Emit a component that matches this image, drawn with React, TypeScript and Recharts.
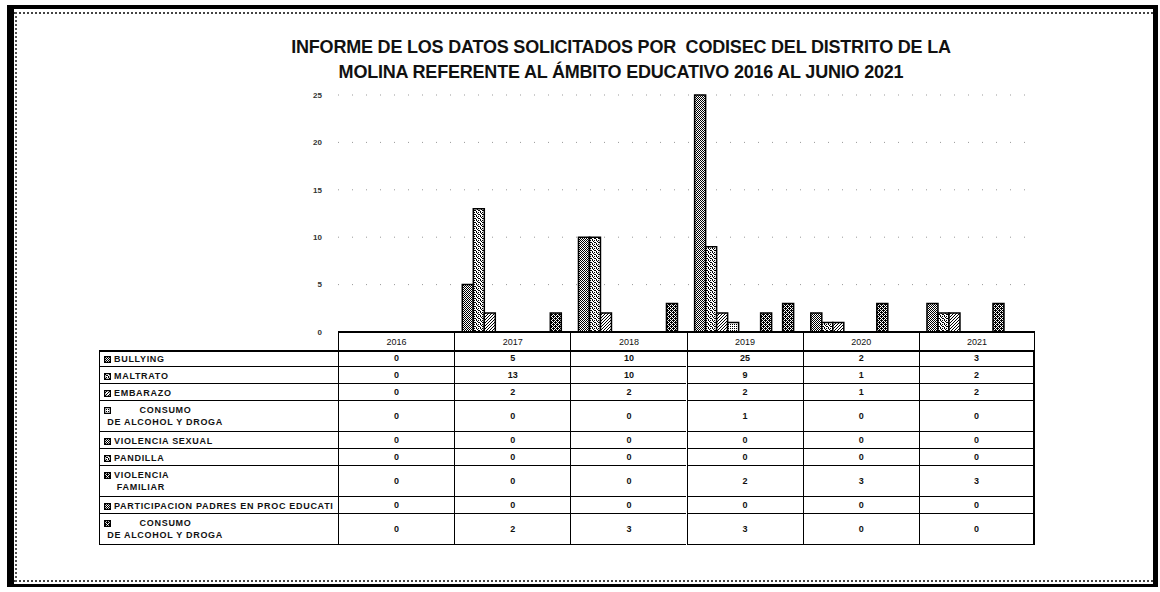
import { BarChart, Bar, XAxis, YAxis, CartesianGrid } from "recharts";

const years = ["2016", "2017", "2018", "2019", "2020", "2021"];
const yTicks = [0, 5, 10, 15, 20, 25];

const bullying = [0, 5, 10, 25, 2, 3];
const maltrato = [0, 13, 10, 9, 1, 2];
const embarazo = [0, 2, 2, 2, 1, 2];
const consumoAlcohol = [0, 0, 0, 1, 0, 0];
const violenciaSexual = [0, 0, 0, 0, 0, 0];
const pandilla = [0, 0, 0, 0, 0, 0];
const violenciaFamiliar = [0, 0, 0, 2, 3, 3];
const participacionPadres = [0, 0, 0, 0, 0, 0];
const consumoAlcohol2 = [0, 2, 3, 3, 0, 0];

const series = [
  { key: "bullying", label: ["BULLYING"], values: bullying, fill: "url(#d50)" },
  { key: "maltrato", label: ["MALTRATO"], values: maltrato, fill: "url(#d40)" },
  { key: "embarazo", label: ["EMBARAZO"], values: embarazo, fill: "url(#d30)" },
  { key: "consumo", label: ["        CONSUMO", " DE ALCOHOL Y DROGA"], values: consumoAlcohol, fill: "url(#d25)" },
  { key: "vsexual", label: ["VIOLENCIA SEXUAL"], values: violenciaSexual, fill: "url(#d50)" },
  { key: "pandilla", label: ["PANDILLA"], values: pandilla, fill: "url(#d40)" },
  { key: "vfamiliar", label: ["VIOLENCIA", "    FAMILIAR"], values: violenciaFamiliar, fill: "url(#d65)" },
  { key: "participacion", label: ["PARTICIPACION PADRES EN PROC EDUCATI"], values: participacionPadres, fill: "url(#d50)" },
  { key: "consumo2", label: ["        CONSUMO", " DE ALCOHOL Y DROGA"], values: consumoAlcohol2, fill: "url(#d65)" },
];

const data = years.map((year, i) => {
  const row: Record<string, string | number> = { year };
  series.forEach((s) => {
    row[s.key] = s.values[i];
  });
  return row;
});

// dither-like fills, to look like the scanned greys
const Dither = ({ id, size, dots }: { id: string; size: number; dots: number[][] }) => (
  <pattern id={id} width={size} height={size} patternUnits="userSpaceOnUse">
    <rect width={size} height={size} fill="#fff" />
    {dots.map(([x, y], i) => (
      <rect key={i} x={x} y={y} width={1} height={1} fill="#000" />
    ))}
  </pattern>
);

const FONT = "'Liberation Sans', Arial, sans-serif";
const LEFT = 99;
const LABEL_W = 239;
const COL_W = 697 / 6;
const TOP = 332;

const Table = () => {
  const cell = { boxSizing: "border-box" as const, borderLeft: "1px solid #000", borderBottom: "1px solid #000" };
  let y = TOP + 18;
  return (
    <div style={{ position: "absolute", left: 0, top: 0, fontFamily: FONT, fontWeight: 700, color: "#111" }}>
      {years.map((yr, j) => (
        <div
          key={yr}
          style={{
            ...cell,
            position: "absolute",
            left: LEFT + LABEL_W + j * COL_W,
            top: TOP,
            width: COL_W,
            height: 18,
            borderBottom: "none",
            borderRight: j === years.length - 1 ? "1px solid #000" : "none",
            fontSize: 9,
            fontWeight: 400,
            lineHeight: "21px",
            textAlign: "center",
          }}
        >
          {yr}
        </div>
      ))}
      <div style={{ position: "absolute", left: LEFT, top: TOP + 18, width: LABEL_W + 6 * COL_W, borderTop: "2px solid #000" }} />
      {series.map((s) => {
        const h = s.label.length > 1 ? 31 : 17;
        const top = y;
        y += h;
        return (
          <div key={s.key}>
            <div
              style={{
                ...cell,
                position: "absolute",
                left: LEFT,
                top,
                width: LABEL_W,
                height: h,
                fontSize: 9,
                lineHeight: "12px",
                padding: "3px 0 0 4px",
                whiteSpace: "pre",
                letterSpacing: 0.7,
              }}
            >
              <svg width={7} height={7} style={{ marginRight: 3, verticalAlign: "-0.5px" }}>
                <rect x={0.5} y={0.5} width={6} height={6} fill={s.fill} stroke="#000" strokeWidth={1.5} />
              </svg>
              {s.label.join("\n")}
            </div>
            {s.values.map((v, j) => (
              <div
                key={j}
                style={{
                  ...cell,
                  position: "absolute",
                  left: LEFT + LABEL_W + j * COL_W,
                  top,
                  width: COL_W,
                  height: h,
                  borderRight: j === years.length - 1 ? "2px solid #000" : "none",
                  fontSize: 9,
                  lineHeight: `${h}px`,
                  textAlign: "center",
                }}
              >
                {v}
              </div>
            ))}
          </div>
        );
      })}
    </div>
  );
};

const App = () => (
  <div style={{ position: "absolute", left: 0, top: 0, width: 1160, height: 592, background: "#fff", overflow: "hidden" }}>
    <svg width={0} height={0} style={{ position: "absolute" }}>
      <defs>
        <Dither id="d25" size={2} dots={[[0, 0]]} />
        <Dither id="d30" size={3} dots={[[0, 0], [1, 2], [2, 1]]} />
        <Dither id="d40" size={4} dots={[[0, 0], [2, 0], [1, 1], [3, 2], [0, 3], [2, 2]]} />
        <Dither id="d50" size={2} dots={[[0, 0], [1, 1]]} />
        <Dither id="d65" size={4} dots={[[0, 0], [1, 0], [2, 0], [1, 1], [3, 1], [0, 2], [2, 2], [3, 2], [1, 3], [3, 3]]} />
      </defs>
    </svg>

    {/* scan frame */}
    <div style={{ position: "absolute", left: 7, top: 5, width: 1151, height: 582, boxSizing: "border-box", borderLeft: "7px solid #000", borderTop: "4px solid #000", borderRight: "5px solid #000", borderBottom: "3px solid #000" }} />
    <div style={{ position: "absolute", left: 14, top: 12, width: 1139, borderTop: "2px dotted #444" }} />
    <div style={{ position: "absolute", left: 14, top: 580, width: 1139, borderTop: "2px dotted #444" }} />
    <div style={{ position: "absolute", left: 15, top: 12, height: 570, borderLeft: "2px dotted #555" }} />

    <div
      style={{
        position: "absolute",
        left: 221,
        top: 35,
        width: 800,
        textAlign: "center",
        fontFamily: FONT,
        fontWeight: 700,
        fontSize: 18,
        lineHeight: "25px",
        color: "#111",
        letterSpacing: -0.2,
      }}
    >
      INFORME DE LOS DATOS SOLICITADOS POR&nbsp; CODISEC DEL DISTRITO DE LA
      <br />
      MOLINA REFERENTE AL ÁMBITO EDUCATIVO 2016 AL JUNIO 2021
    </div>

    <div style={{ position: "absolute", left: 0, top: 0 }}>
      <BarChart width={1160} height={350} data={data} margin={{ top: 95, right: 125, bottom: 0, left: 300 }} barCategoryGap="7%" barGap={0}>
        <CartesianGrid vertical={false} stroke="#999" strokeDasharray="1 13" />
        <XAxis dataKey="year" tick={false} tickLine={false} height={18} axisLine={{ stroke: "#000", strokeWidth: 2 }} />
        <YAxis
          domain={[0, 25]}
          ticks={yTicks}
          interval={0}
          width={38}
          axisLine={false}
          tickLine={false}
          tickMargin={10}
          tick={{ fontSize: 8, fill: "#333", fontWeight: 700, fontFamily: FONT }}
        />
        {series.map((s) => (
          <Bar key={s.key} dataKey={s.key} fill={s.fill} stroke="#000" strokeWidth={1.5} isAnimationActive={false} />
        ))}
      </BarChart>
    </div>

    <Table />
  </div>
);

export default App;
